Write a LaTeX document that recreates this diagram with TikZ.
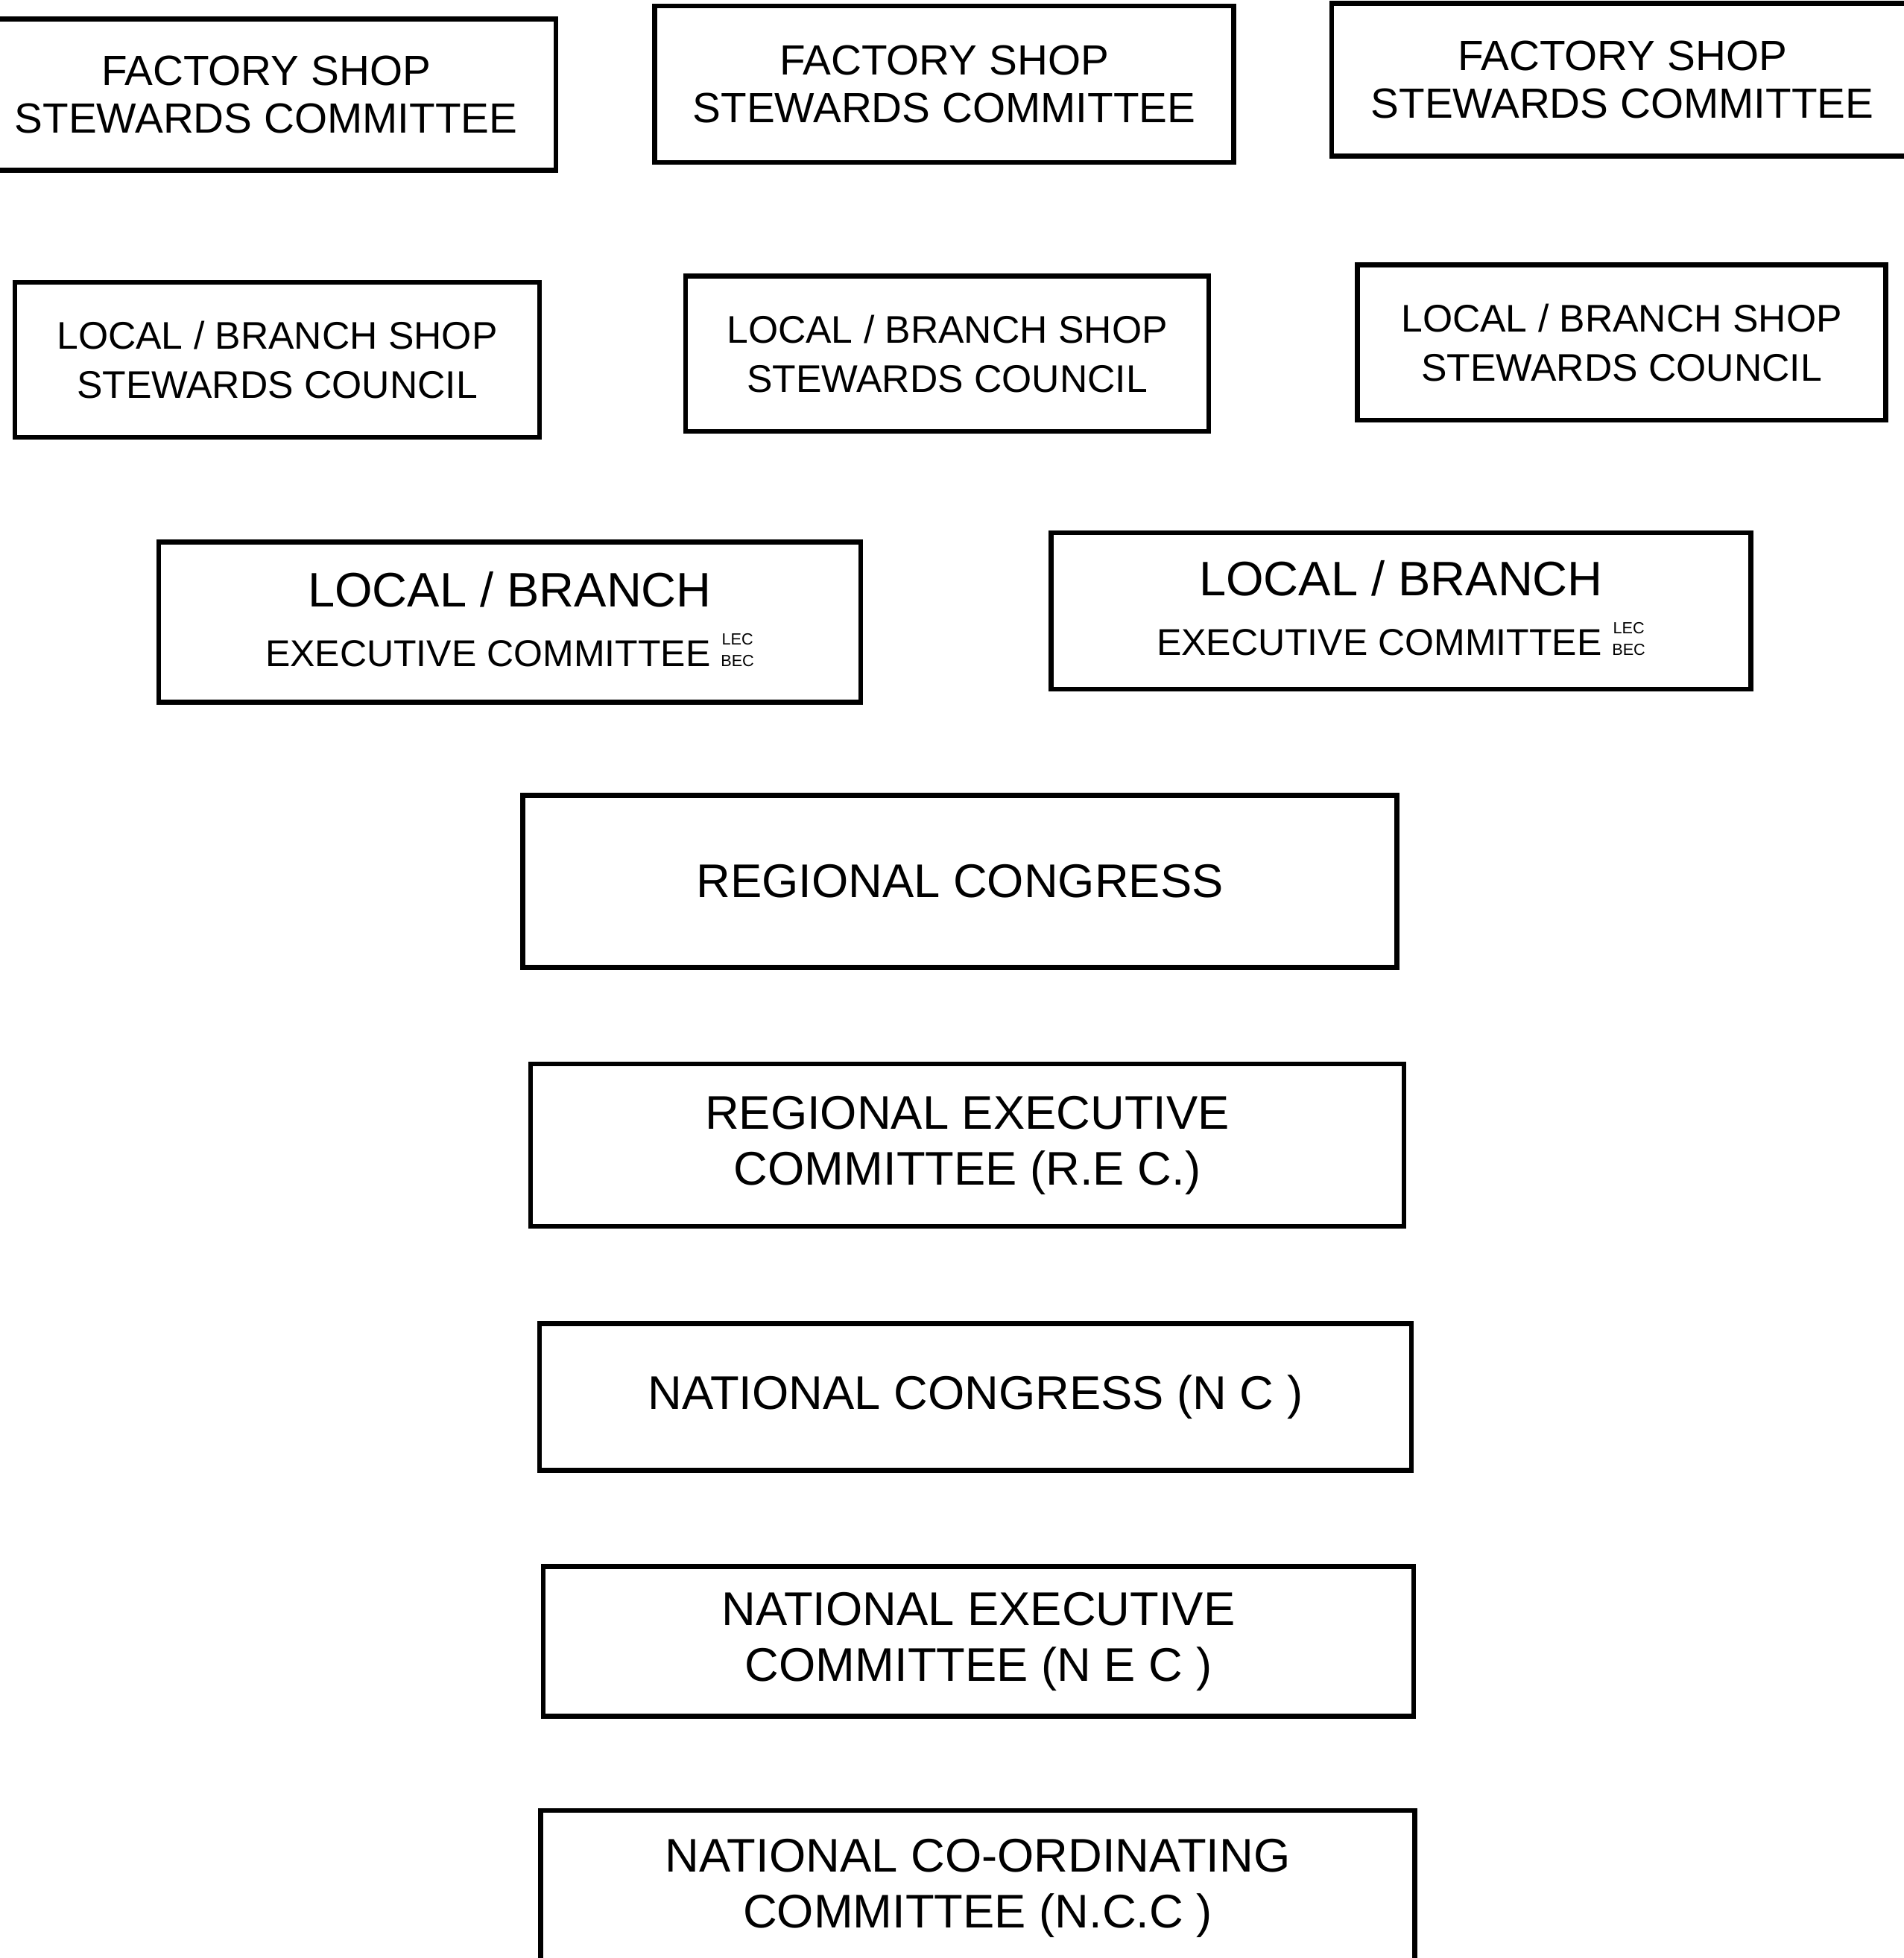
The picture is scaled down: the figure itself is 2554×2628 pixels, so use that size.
\documentclass[tikz,border=0pt]{standalone}
\usepackage{fontspec}
\setmainfont{Liberation Sans}
\usetikzlibrary{positioning}
\tikzset{%
  unit/.style={draw, line width=2pt, align=center, inner sep=0pt}, % every committee box
  factory/.style={unit, font=\fontsize{17}{19}\selectfont, minimum width=233pt, minimum height=62pt},
  council/.style={unit, font=\fontsize{15.5}{20}\selectfont, minimum width=211pt, minimum height=62.5pt},
  branch/.style={unit, font=\fontsize{15}{24}\selectfont, minimum width=282pt, minimum height=64pt},
  central/.style={unit, font=\fontsize{19}{22.5}\selectfont, minimum width=351pt}
}
% the small stacked abbreviation after the branch executive
\newcommand{\lecbec}{{\fontsize{6.5}{8.5}\selectfont\begin{tabular}[b]{@{}c@{}}LEC\\BEC\end{tabular}}}

\begin{document}
\begin{tikzpicture}[x=0.3pt, y=-0.3pt]

\useasboundingbox (0,0) rectangle (2554,2628);

% factory level
\node[factory, minimum width=233.4pt, minimum height=60.9pt] (fac1) at (357,127) {FACTORY SHOP\\STEWARDS COMMITTEE};
\node[factory, minimum height=63pt] (fac2) at (1267,113) {FACTORY SHOP\\STEWARDS COMMITTEE};
\node[factory, minimum width=234pt, minimum height=61.5pt] (fac3) at (2177,107) {FACTORY SHOP\\STEWARDS COMMITTEE};

% local / branch councils
\node[council, minimum width=211.2pt, minimum height=62.4pt] (cou1) at (372,483) {LOCAL / BRANCH SHOP\\STEWARDS COUNCIL};
\node[council, minimum width=210.6pt] (cou2) at (1271,475) {LOCAL / BRANCH SHOP\\STEWARDS COUNCIL};
\node[council, minimum width=212.7pt] (cou3) at (2176,460) {LOCAL / BRANCH SHOP\\STEWARDS COUNCIL};

% local / branch executives
\node[branch, minimum width=282.6pt, minimum height=64.5pt] (exe1) at (684,835) {{\fontsize{19.5}{24}\selectfont LOCAL / BRANCH}\\EXECUTIVE COMMITTEE \lecbec};
\node[branch, minimum width=281.7pt, minimum height=63pt] (exe2) at (1880,820) {{\fontsize{19.5}{24}\selectfont LOCAL / BRANCH}\\EXECUTIVE COMMITTEE \lecbec};

% regional and national bodies
\node[central, minimum width=351.9pt, minimum height=69.3pt] (rc) at (1288,1183) {REGIONAL CONGRESS};
\node[central, minimum width=351.6pt, minimum height=65.4pt] (rec) at (1298,1537) {REGIONAL EXECUTIVE\\COMMITTEE (R.E C.)};
\node[central, minimum height=59.1pt] (nc) at (1309,1875) {NATIONAL CONGRESS (N C )};
\node[central, minimum width=350.4pt, minimum height=60.3pt] (nec) at (1313,2203) {NATIONAL EXECUTIVE\\COMMITTEE (N E C )};
\node[central, minimum width=351.9pt, minimum height=62.4pt] (ncc) at (1312,2534) {NATIONAL CO-ORDINATING\\COMMITTEE (N.C.C )};

\end{tikzpicture}
\end{document}
